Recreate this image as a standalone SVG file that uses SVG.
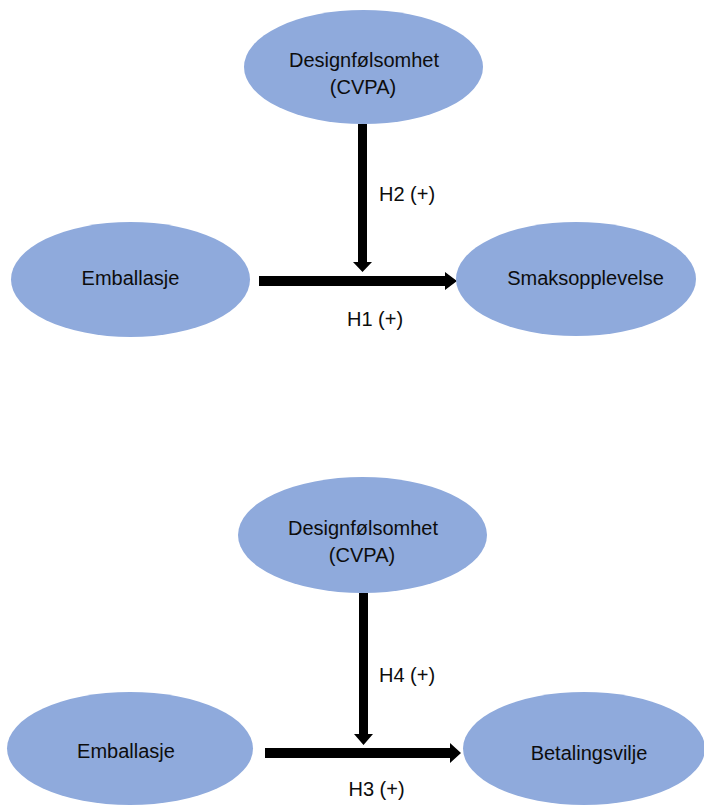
<svg xmlns="http://www.w3.org/2000/svg" width="704" height="807" viewBox="0 0 704 807">
<style>
.node ellipse { fill: #8faadc; }
.lbl { font-family: "Liberation Sans", Arial, sans-serif; font-size: 20px; fill: #0d0d0d; text-anchor: middle; }
.arrow { fill: #000; }
</style>
<rect width="704" height="807" fill="#fff"/>
<g id="connectors">
<path class="arrow" d="M358,124 H367 V262 H372 L362.5,272 L353,262 H358 Z"/>
<path class="arrow" d="M259,276 H445 V272 L457,281 L445,290 V286 H259 Z"/>
<path class="arrow" d="M359,593 H368 V734 H373 L363.5,745 L354,734 H359 Z"/>
<path class="arrow" d="M265,748 H450 V743 L461,753 L450,763 V758 H265 Z"/>
<text class="lbl" x="407" y="201">H2 (+)</text>
<text class="lbl" x="375" y="326">H1 (+)</text>
<text class="lbl" x="407" y="682">H4 (+)</text>
<text class="lbl" x="376.5" y="796">H3 (+)</text>
</g>
<g id="design1" class="node">
<ellipse cx="363.5" cy="67" rx="119.5" ry="57"/>
<text class="lbl" x="364" y="67">Designfølsomhet</text>
<text class="lbl" x="363" y="94">(CVPA)</text>
</g>
<g id="emballasje1" class="node">
<ellipse cx="130.5" cy="279.5" rx="119.5" ry="57.5"/>
<text class="lbl" x="130.5" y="285">Emballasje</text>
</g>
<g id="smaksopplevelse" class="node">
<ellipse cx="576" cy="279" rx="120" ry="57"/>
<text class="lbl" x="585.5" y="285">Smaksopplevelse</text>
</g>
<g id="design2" class="node">
<ellipse cx="362.5" cy="535" rx="124.5" ry="58"/>
<text class="lbl" x="363" y="535">Designfølsomhet</text>
<text class="lbl" x="362" y="562">(CVPA)</text>
</g>
<g id="emballasje2" class="node">
<ellipse cx="130" cy="748.5" rx="123" ry="56.5"/>
<text class="lbl" x="126" y="758">Emballasje</text>
</g>
<g id="betalingsvilje" class="node">
<ellipse cx="584" cy="748.5" rx="121" ry="56.5"/>
<text class="lbl" x="589" y="760">Betalingsvilje</text>
</g>
</svg>
